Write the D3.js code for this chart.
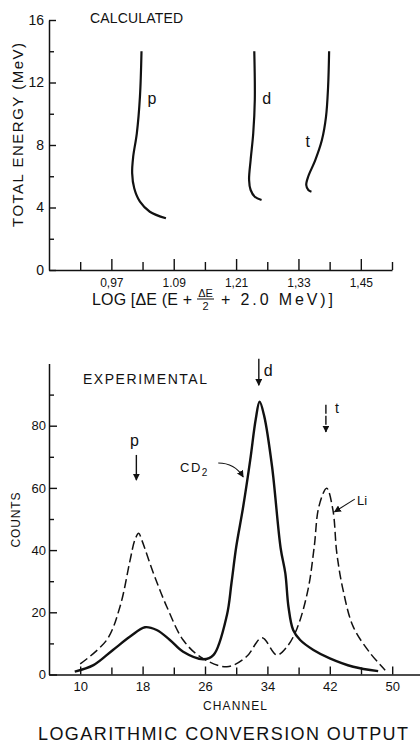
<!DOCTYPE html>
<html><head><meta charset="utf-8">
<script src="https://cdn.jsdelivr.net/npm/d3@7"></script>
<style>
html,body{margin:0;padding:0;background:#fff;}
svg{display:block;font-family:"Liberation Sans",Arial,sans-serif;}
</style></head>
<body>
<svg id="c" width="420" height="744"></svg>
<script>
// ---------- DATA: calculated (top) ----------
const pEnergy = [14.0, 11.1, 8.75, 7.25, 6.2, 5.23, 4.37, 3.73, 3.31];
const pLog    = [1.028, 1.025, 1.019, 1.012, 1.010, 1.014, 1.025, 1.044, 1.075];
const dEnergy = [14.0, 10.9, 8.75, 7.04, 5.76, 5.12, 4.69, 4.48];
const dLog    = [1.245, 1.246, 1.243, 1.238, 1.235, 1.238, 1.246, 1.259];
const tEnergy = [14.0, 11.7, 9.8, 8.3, 7.0, 6.0, 5.44, 5.12, 5.01];
const tLog    = [1.389, 1.387, 1.383, 1.375, 1.362, 1.349, 1.345, 1.349, 1.355];
const topYTicks = [0, 4, 8, 12, 16];
const topYMinor = [2, 6, 10, 14];
const topXTicks = [0.97, 1.09, 1.21, 1.33, 1.45];
const topXTickLabels = ["0,97", "1.09", "1,21", "1,33", "1,45"];
const topXMinor = [0.91, 1.03, 1.15, 1.27, 1.39, 1.51];

// ---------- DATA: experimental (bottom) ----------
const cd2Channel = [9.3, 11.7, 14.2, 16.4, 18.3, 19.8, 21.5, 23.2, 25.8, 27.1, 28.8, 29.4, 30.0, 30.9, 31.8, 32.5, 33.0, 33.6, 34.6, 35.7, 36.3, 36.7, 37.3, 38.2, 39.9, 42.0, 45.0, 48.2];
const cd2Counts  = [0.9, 3.0, 7.9, 12.2, 15.2, 14.3, 11.1, 7.3, 4.9, 6.3, 19.0, 29.5, 41.0, 54.0, 69.0, 82.0, 87.7, 83.0, 66.8, 40.6, 32.5, 21.8, 14.3, 11.1, 7.9, 5.2, 2.5, 1.1];
const liChannel  = [10.0, 13.4, 15.1, 16.4, 17.0, 17.5, 17.9, 19.4, 21.1, 23.2, 25.4, 28.8, 31.3, 33.3, 35.2, 36.5, 37.8, 39.2, 40.0, 40.6, 41.6, 42.4, 42.9, 43.7, 45.0, 47.2, 49.1];
const liCounts   = [3.4, 11.1, 21.8, 36.8, 43.2, 45.4, 43.2, 32.5, 21.8, 11.1, 5.7, 2.5, 5.7, 11.8, 6.3, 8.9, 14.8, 27.2, 41.0, 54, 59.9, 52.9, 39, 27.2, 15.4, 6.8, 1.4];
const botYTicks = [0, 20, 40, 60, 80];
const botYMinor = [10, 30, 50, 70, 90];
const botXTicks = [10, 18, 26, 34, 42, 50];
const botXMinor = [14, 22, 30, 38, 46];
// peak markers: label, channel, arrow top / bottom (counts)
const peakLabels = ["p", "d", "t"];
const peakChannel = [17.2, 32.9, 41.5];
const peakArrowTop = [70.6, 101.5, 86.7];
const peakArrowBottom = [62.5, 93.0, 78.0];

const svg = d3.select("#c");
const F = "Liberation Sans, Arial, sans-serif";

// ================= TOP CHART =================
const xT = d3.scaleLinear().domain([0.85, 1.51]).range([49, 392]);
const yT = d3.scaleLinear().domain([0, 16]).range([270, 20]);

const gT = svg.append("g");
gT.append("g").attr("transform", "translate(49,0)")
  .call(d3.axisLeft(yT).tickValues(topYMinor).tickSize(-5).tickSizeOuter(0).tickFormat(""))
  .call(g => g.select(".domain").remove());
gT.append("g").attr("transform", "translate(49,0)")
  .call(d3.axisLeft(yT).tickValues(topYTicks).tickSize(-7).tickSizeOuter(0).tickPadding(5))
  .call(g => g.selectAll("text").attr("font-size", 14).attr("font-family", F).attr("fill", "#111"));
gT.append("g").attr("transform", "translate(0,270)")
  .call(d3.axisBottom(xT).tickValues(topXMinor).tickSize(-8).tickSizeOuter(0).tickFormat(""))
  .call(g => g.select(".domain").remove());
gT.append("g").attr("transform", "translate(0,270)")
  .call(d3.axisBottom(xT).tickValues(topXTicks).tickSize(-11).tickSizeOuter(0)
        .tickFormat((d, i) => topXTickLabels[i]).tickPadding(6))
  .call(g => g.selectAll("text").attr("font-size", 12).attr("font-family", F).attr("fill", "#111").attr("dy", "0.9em"));
gT.selectAll(".domain").attr("stroke", "#111").attr("stroke-width", 1.5);
gT.selectAll(".tick line").attr("stroke", "#111").attr("stroke-width", 1.4);

const lineT = d3.line().x(d => xT(d[0])).y(d => yT(d[1])).curve(d3.curveCatmullRom.alpha(0.5));
[[pLog, pEnergy], [dLog, dEnergy], [tLog, tEnergy]].forEach(([xs, es]) => {
  gT.append("path").datum(xs.map((v, i) => [v, es[i]]))
    .attr("d", lineT).attr("fill", "none").attr("stroke", "#111").attr("stroke-width", 2.2);
});
[["p", 1.048, 10.6], ["d", 1.269, 10.6], ["t", 1.348, 7.9]].forEach(([t, x, e]) => {
  gT.append("text").attr("x", xT(x)).attr("y", yT(e)).attr("text-anchor", "middle")
    .attr("font-size", 16).attr("font-family", F).attr("fill", "#111").text(t);
});
gT.append("text").attr("x", 90).attr("y", 23).attr("font-size", 14).attr("font-family", F)
  .attr("textLength", 93).attr("lengthAdjust", "spacing").attr("fill", "#111").text("CALCULATED");
gT.append("text").attr("transform", "translate(23,135) rotate(-90)").attr("text-anchor", "middle")
  .attr("font-size", 15).attr("font-family", F).attr("textLength", 184).attr("lengthAdjust", "spacing")
  .attr("fill", "#111").text("TOTAL ENERGY (MeV)");
gT.append("text").attr("x", 92).attr("y", 305).attr("font-size", 16).attr("font-family", F)
  .attr("textLength", 100).attr("lengthAdjust", "spacing").attr("fill", "#111").text("LOG  [ΔE (E +");
gT.append("text").attr("x", 205.5).attr("y", 296.5).attr("text-anchor", "middle").attr("font-size", 11)
  .attr("font-family", F).attr("fill", "#111").text("ΔE");
gT.append("line").attr("x1", 197).attr("x2", 214).attr("y1", 299).attr("y2", 299)
  .attr("stroke", "#111").attr("stroke-width", 1);
gT.append("text").attr("x", 205.5).attr("y", 309.5).attr("text-anchor", "middle").attr("font-size", 11)
  .attr("font-family", F).attr("fill", "#111").text("2");
gT.append("text").attr("x", 221).attr("y", 305).attr("font-size", 16).attr("font-family", F)
  .attr("textLength", 112).attr("lengthAdjust", "spacing").attr("fill", "#111").text("+  2.0 MeV)]");

// ================= BOTTOM CHART =================
const xB = d3.scaleLinear().domain([6, 54]).range([49, 423.4]);
const yB = d3.scaleLinear().domain([0, 100]).range([674.5, 363.5]);
const gB = svg.append("g");

gB.append("g").attr("transform", "translate(49,0)")
  .call(d3.axisLeft(yB).tickValues(botYMinor).tickSize(-5).tickSizeOuter(0).tickFormat(""))
  .call(g => g.select(".domain").remove());
gB.append("g").attr("transform", "translate(49,0)")
  .call(d3.axisLeft(yB).tickValues(botYTicks).tickSize(-8).tickSizeOuter(0).tickPadding(3))
  .call(g => g.selectAll("text").attr("font-size", 13).attr("font-family", F).attr("fill", "#111"));
gB.append("g").attr("transform", "translate(0,674.5)")
  .call(d3.axisBottom(xB).tickValues(botXMinor).tickSize(-7).tickSizeOuter(0).tickFormat(""))
  .call(g => g.select(".domain").remove());
gB.append("g").attr("transform", "translate(0,674.5)")
  .call(d3.axisBottom(xB).tickValues(botXTicks).tickSize(-8).tickSizeOuter(0).tickPadding(5))
  .call(g => g.selectAll("text").attr("font-size", 13).attr("font-family", F).attr("fill", "#111").attr("dy", "0.9em"));
gB.selectAll(".domain").attr("stroke", "#111").attr("stroke-width", 1.5);
gB.selectAll(".tick line").attr("stroke", "#111").attr("stroke-width", 1.4);

const lineB = d3.line().x(d => xB(d[0])).y(d => yB(d[1])).curve(d3.curveCatmullRom.alpha(0.5));
gB.append("path").datum(liChannel.map((c, i) => [c, liCounts[i]]))
  .attr("d", lineB).attr("fill", "none").attr("stroke", "#111").attr("stroke-width", 1.5)
  .attr("stroke-dasharray", "9,4");
gB.append("path").datum(cd2Channel.map((c, i) => [c, cd2Counts[i]]))
  .attr("d", lineB).attr("fill", "none").attr("stroke", "#111").attr("stroke-width", 2.4);

const defs = svg.append("defs");
defs.append("marker").attr("id", "ah").attr("viewBox", "0 0 10 10").attr("refX", 9).attr("refY", 5)
  .attr("markerWidth", 7).attr("markerHeight", 7).attr("markerUnits", "userSpaceOnUse").attr("orient", "auto")
  .append("path").attr("d", "M0,0 L10,5 L0,10 Z").attr("fill", "#111");

peakLabels.forEach((lab, i) => {
  const x = xB(peakChannel[i]);
  gB.append("line").attr("x1", x).attr("x2", x)
    .attr("y1", yB(peakArrowTop[i])).attr("y2", yB(peakArrowBottom[i]))
    .attr("stroke", "#111").attr("stroke-width", 1.4).attr("marker-end", "url(#ah)")
    .attr("stroke-dasharray", lab === "t" ? "9,2" : null);
});
gB.append("text").attr("x", xB(peakChannel[0]) - 2).attr("y", yB(73.5)).attr("text-anchor", "middle")
  .attr("font-size", 16).attr("font-family", F).attr("fill", "#111").text("p");
gB.append("text").attr("x", xB(peakChannel[1]) + 5).attr("y", yB(96)).attr("font-size", 16)
  .attr("font-family", F).attr("fill", "#111").text("d");
gB.append("text").attr("x", xB(peakChannel[2]) + 9).attr("y", yB(84)).attr("font-size", 14)
  .attr("font-family", F).attr("fill", "#111").text("t");

const cd = gB.append("text").attr("x", 180).attr("y", 472).attr("font-size", 13).attr("font-family", F)
  .attr("fill", "#111").attr("letter-spacing", 1.5);
cd.append("tspan").text("CD");
cd.append("tspan").attr("font-size", 10).attr("dy", 4).text("2");
gB.append("path")
  .attr("d", `M${xB(27.7)},${yB(68)} Q${xB(29.8)},${yB(68)} ${xB(30.9)},${yB(63.5)}`)
  .attr("fill", "none").attr("stroke", "#111").attr("stroke-width", 1.1).attr("marker-end", "url(#ah)");
gB.append("text").attr("x", 357).attr("y", 505).attr("font-size", 13).attr("font-family", F)
  .attr("fill", "#111").text("Li");
gB.append("line").attr("x1", xB(45.2)).attr("y1", yB(56.4)).attr("x2", xB(42.6)).attr("y2", yB(52.3))
  .attr("stroke", "#111").attr("stroke-width", 1.1).attr("marker-end", "url(#ah)");

gB.append("text").attr("x", 83).attr("y", 384).attr("font-size", 14).attr("font-family", F)
  .attr("textLength", 124).attr("lengthAdjust", "spacing").attr("fill", "#111").text("EXPERIMENTAL");
gB.append("text").attr("transform", "translate(20,520) rotate(-90)").attr("text-anchor", "middle")
  .attr("font-size", 12).attr("font-family", F).attr("textLength", 55).attr("lengthAdjust", "spacing")
  .attr("fill", "#111").text("COUNTS");
gB.append("text").attr("x", 203).attr("y", 710).attr("font-size", 12).attr("font-family", F)
  .attr("textLength", 64).attr("lengthAdjust", "spacing").attr("fill", "#111").text("CHANNEL");
gB.append("text").attr("x", 38).attr("y", 740).attr("font-size", 18).attr("font-family", F)
  .attr("textLength", 370).attr("lengthAdjust", "spacing").attr("fill", "#111").text("LOGARITHMIC CONVERSION OUTPUT");
</script>
</body></html>
